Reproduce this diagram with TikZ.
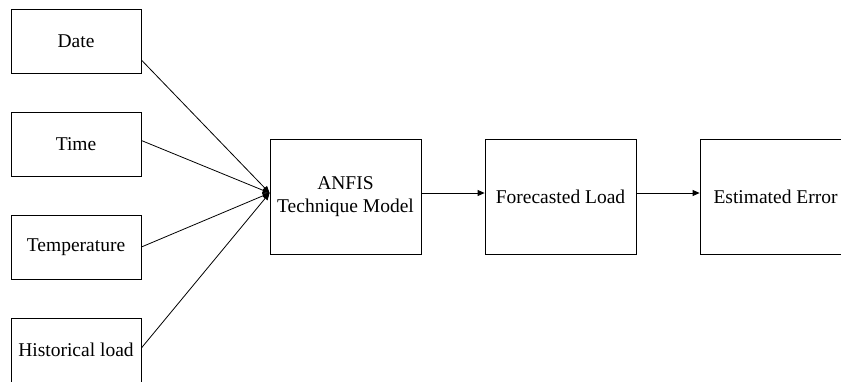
\documentclass[tikz,border=0pt]{standalone}
\usepackage{fontspec}
\setmainfont{Liberation Serif}
\usetikzlibrary{arrows.meta}
\tikzset{
  inbox/.style={draw, thin, minimum width=65pt, minimum height=32pt,
                inner sep=0pt, font=\fontsize{9.75}{11.5}\selectfont},
  procbox/.style={inbox, minimum width=75.5pt, minimum height=57.5pt, align=center},
  feed/.style={-{Triangle[length=3.5pt,width=3pt]}, thin},
}

\begin{document}
\begin{tikzpicture}[x=0.5pt, y=-0.5pt]
    \useasboundingbox (0,0) rectangle (841,381);
    % inputs
    \node[inbox] (date) at (76, 41) {Date};
    \node[inbox] (time) at (76, 144.5) {Time};
    \node[inbox] (temp) at (76, 247) {Temperature};
    \node[inbox] (hist) at (76, 350) {Historical load};
    % processing chain
    \node[procbox] (anfis) at (345.5, 196.5) {ANFIS\\Technique Model};
    \node[procbox] (fore) at (560.5, 196.5) {Forecasted Load};
    \node[procbox] (err) at (775.5, 196.5) {Estimated Error};
    \coordinate (hub) at ([yshift=1.75pt]anfis.west);
    \draw[feed] ([yshift=-9.5pt]date.east) -- (hub);
    \draw[feed] ([yshift=2pt]time.east) -- (hub);
    \draw[feed] (temp.east) -- (hub);
    \draw[feed] ([yshift=1pt]hist.east) -- (hub);
    \draw[feed] ([yshift=1.75pt]anfis.east) -- ([yshift=1.75pt]fore.west);
    \draw[feed] ([yshift=1.75pt]fore.east) -- ([yshift=1.75pt]err.west);
  \end{tikzpicture}
\end{document}
